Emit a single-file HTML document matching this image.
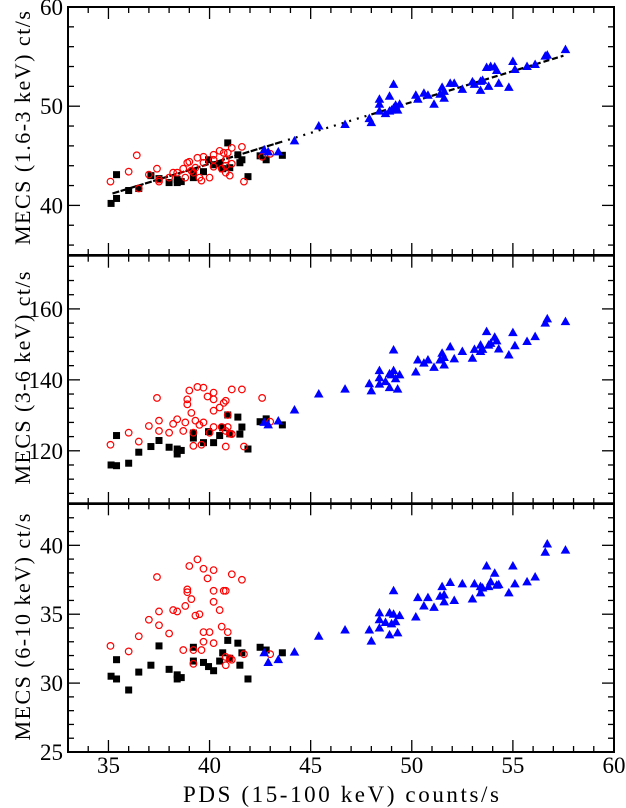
<!DOCTYPE html>
<html><head><meta charset="utf-8"><style>
html,body{margin:0;padding:0;background:#fff;}
svg{display:block;font-family:"Liberation Serif",serif;}
</style></head>
<body>
<svg id="chart" width="626" height="808" viewBox="0 0 626 808" xmlns="http://www.w3.org/2000/svg"></svg>
<script>
// ---- data (x in PDS counts/s) ----
const xTicks = [35, 40, 45, 50, 55, 60];
const p1Ticks = [40, 50, 60];
const p2Ticks = [120, 140, 160];
const p3Ticks = [25, 30, 35, 40];

const blackX = [35.13,35.4,35.4,36.0,36.5,37.1,37.5,38.0,38.4,38.4,38.6,39.2,39.2,39.7,39.95,40.2,40.5,40.65,40.9,41.0,41.4,41.5,41.6,41.9,42.5,42.8,43.6];
const blackP1 = [40.2,40.7,43.1,41.5,41.7,43.0,42.7,42.3,42.6,42.3,42.4,42.8,43.4,43.4,44.6,44.1,44.2,43.7,46.3,43.8,45.1,44.3,44.6,42.9,45.0,44.6,45.05];
const blackP2 = [116.0,115.8,124.3,116.5,119.6,121.2,122.9,121.0,120.5,119.1,120.1,123.6,125.0,122.3,125.4,122.3,124.3,126.5,130.1,124.8,129.5,124.7,126.7,120.5,128.2,129.0,127.3];
const blackP3 = [30.5,30.3,31.7,29.5,30.8,31.3,32.7,31.0,30.6,30.3,30.4,31.6,32.6,31.5,31.2,30.9,31.6,32.2,33.1,31.8,32.9,31.3,32.2,30.3,32.6,32.4,32.2];

const redX1 = [35.1,36.0,36.4,36.5,37.0,37.4,37.5,37.5,38.0,38.2,38.4,38.7,38.8,38.9,39.0,39.1,39.2,39.3,39.4,39.5,39.6,39.7,39.7,40.0,40.2,40.2,40.2,40.5,40.6,40.7,40.8,40.8,40.8,40.9,41.0,41.1,41.1,41.6,41.7,42.6,43.0];
const redP1 = [42.4,43.4,45.05,41.7,43.1,43.7,42.6,42.4,42.8,43.3,43.3,43.7,42.8,44.3,44.4,43.5,43.3,43.8,44.8,42.8,42.5,44.9,44.3,42.8,45.1,44.6,43.9,45.5,43.7,45.3,44.6,44.0,43.3,45.3,43.0,45.8,44.2,45.9,42.4,44.9,45.2];
const redX2 = [35.1,36.0,36.5,37.0,37.4,37.5,37.5,38.0,38.2,38.4,38.7,38.8,38.9,38.9,39.0,39.1,39.2,39.2,39.3,39.4,39.5,39.6,39.7,39.7,39.9,40.0,40.2,40.2,40.2,40.2,40.5,40.6,40.7,40.8,40.8,40.8,40.9,40.9,41.0,41.1,41.1,41.6,41.7,42.6,43.0];
const redP2 = [121.7,125.1,122.6,127.0,134.9,128.5,125.6,125.1,127.6,128.9,125.6,128.0,134.5,133.1,137.0,130.7,125.1,121.4,128.5,138.0,127.3,121.7,137.8,128.0,135.3,125.1,131.3,136.4,134.5,126.7,132.2,126.7,133.5,134.1,125.6,121.2,126.7,130.1,124.8,137.3,124.7,137.3,121.2,134.9,128.2];
const redX3 = [35.1,36.0,36.5,37.0,37.4,37.5,37.5,38.0,38.2,38.4,38.7,38.8,38.9,38.9,39.0,39.1,39.2,39.2,39.3,39.4,39.5,39.6,39.7,39.7,39.7,39.9,40.0,40.2,40.2,40.2,40.2,40.5,40.6,40.7,40.8,40.8,40.8,40.9,41.0,41.1,41.1,41.6,41.7,43.0];
const redP3 = [32.7,32.3,33.4,34.6,37.7,35.2,34.2,33.6,35.3,35.2,32.4,35.6,36.8,36.6,38.5,36.1,32.4,31.4,34.9,38.98,35.0,32.4,38.3,33.7,33.0,37.6,33.7,35.9,38.2,36.7,32.9,35.3,34.1,36.7,36.7,31.9,31.3,33.7,31.8,37.9,31.7,37.5,32.1,32.1];

const blueX = [42.7,42.9,43.4,44.2,45.4,46.7,47.9,48.0,48.4,48.4,48.4,48.7,48.9,48.9,49.1,49.1,49.0,49.2,49.3,49.4,50.2,50.3,50.6,50.8,51.1,51.4,51.5,51.6,51.6,51.9,52.1,52.5,53.0,53.1,53.4,53.4,53.5,53.7,53.8,53.9,54.1,54.2,54.3,54.8,55.0,55.1,55.7,56.1,56.6,56.7,57.6];
const blueP1 = [45.6,45.4,45.4,46.5,48.0,48.15,48.75,48.35,50.7,50.2,49.5,49.25,49.5,51.0,52.2,49.8,49.6,50.1,49.6,50.2,51.1,50.7,51.3,51.1,50.2,51.2,51.9,50.8,51.5,52.3,52.3,51.7,52.45,52.2,51.6,52.5,52.6,53.9,52.0,54.0,53.95,53.6,52.3,51.9,54.5,53.7,54.0,54.2,55.05,55.15,55.7];
const blueP2 = [128.0,127.3,128.4,131.5,136.0,137.4,138.9,136.9,142.6,140.6,138.8,139.5,137.8,141.7,148.4,142.6,141.4,140.3,137.4,141.4,142.2,145.6,144.7,145.6,143.5,145.6,147.5,146.3,144.2,149.3,145.9,148.0,146.1,148.6,148.0,149.8,148.6,153.6,149.8,150.3,152.0,151.0,148.7,147.0,153.3,149.6,150.8,152.2,156.0,157.2,156.4];
const blueP3 = [32.2,31.5,31.7,32.25,33.4,33.85,33.85,33.05,35.1,34.6,34.0,34.4,33.5,35.1,36.7,35.0,34.3,34.45,33.65,34.9,34.8,36.2,35.6,36.2,35.5,36.3,37.0,36.4,35.9,37.3,36.0,37.2,36.1,37.2,36.55,37.0,36.9,38.5,37.0,37.35,37.97,37.1,37.15,36.55,38.5,37.2,37.35,37.7,39.5,40.1,39.65];

const fitX = [35.2, 43.5, 48.0, 57.5];
const fitSlope = 0.623, fitAt = 41.2; // value at x=35.2

// ---- layout ----
const L = 68, R = 614, X0 = 33, X1 = 60;
const sx = v => L + (v - X0) * (R - L) / (X1 - X0);
const panels = [
  {top:7, bot:255, y0:35, y1:60, minor:2, major:10, ticks:p1Ticks, title:"MECS (1.6-3 keV) ct/s", tlen:234, tc:128, name:"panel-1-6-3kev",
   series:[[blackX,blackP1],[redX1,redP1],[blueX,blueP1]]},
  {top:255.7, bot:504, y0:105, y1:175, minor:4, major:20, ticks:p2Ticks, title:"MECS (3-6 keV) ct/s", tlen:213, tc:378, name:"panel-3-6kev",
   series:[[blackX,blackP2],[redX2,redP2],[blueX,blueP2]]},
  {top:503.3, bot:752, y0:25, y1:43.05, minor:1, major:5, ticks:p3Ticks, title:"MECS (6-10 keV) ct/s", tlen:227, tc:627, name:"panel-6-10kev",
   series:[[blackX,blackP3],[redX3,redP3],[blueX,blueP3]]}
];
const NS = "http://www.w3.org/2000/svg";
const svg = document.getElementById('chart');
function mk(tag, attrs, parent){
  const e = document.createElementNS(NS, tag);
  for (const k in attrs) e.setAttribute(k, attrs[k]);
  (parent||svg).appendChild(e); return e;
}
panels.forEach((p, pi) => {
  const g = mk('g', {});
  
  
  const sy = v => p.bot - (v - p.y0) * (p.bot - p.top) / (p.y1 - p.y0);
  for (let v = 34; v <= 60; v++) {
    const major = v % 5 === 0, len = major ? 12 : 6, x = sx(v);
    mk('line', {x1:x, x2:x, y1:p.bot, y2:p.bot-len, stroke:'#000','stroke-width':1.3}, g);
    mk('line', {x1:x, x2:x, y1:p.top, y2:p.top+len, stroke:'#000','stroke-width':1.3}, g);
  }
  for (let v = Math.ceil(p.y0/p.minor)*p.minor; v <= p.y1 + 1e-6; v += p.minor) {
    const major = Math.abs(v % p.major) < 1e-6;
    const len = major ? 12 : 6, y = sy(v);
    mk('line', {x1:L, x2:L+len, y1:y, y2:y, stroke:'#000','stroke-width':1.3}, g);
    mk('line', {x1:R, x2:R-len, y1:y, y2:y, stroke:'#000','stroke-width':1.3}, g);
  }
  p.ticks.forEach(v => {
    const t = mk('text', {x:L-5, y:sy(v)+8, 'text-anchor':'end','font-size':23}, g);
    t.textContent = v;
    
    
  });
  const tt = mk('text', {x:0, y:0, transform:`translate(30,${p.tc}) rotate(-90)`, 'text-anchor':'middle','font-size':22, textLength:p.tlen, lengthAdjust:'spacing'}, g);
  tt.textContent = p.title;
  
  
  if (pi === 0) {
    const f = x => fitAt + fitSlope * (x - 35.2);
    const dashes = ['7,1.5', '2,6', '6,3'];
    for (let i = 0; i < 3; i++) {
      const ln = mk('line', {x1:sx(fitX[i]), y1:sy(f(fitX[i])), x2:sx(fitX[i+1]), y2:sy(f(fitX[i+1])), stroke:'#000','stroke-width':2.2,'stroke-dasharray':dashes[i]}, g);
      
      
    }
  }
  const [bx, by] = p.series[0];
  bx.forEach((x, i) => {
    const r = mk('rect', {x:sx(x)-3.5, y:sy(by[i])-3.5, width:7, height:7, fill:'#000'}, g);
    
    
  });
  const [rx, ry] = p.series[1];
  rx.forEach((x, i) => {
    const c = mk('circle', {cx:sx(x), cy:sy(ry[i]), r:3.3, fill:'none', stroke:'#f00','stroke-width':1.2}, g);
    
    
  });
  const [ux, uy] = p.series[2];
  ux.forEach((x, i) => {
    const cx = sx(x), cyy = sy(uy[i]);
    const t = mk('polygon', {points:`${cx-4.8},${cyy+3.5} ${cx+4.8},${cyy+3.5} ${cx},${cyy-5}`, fill:'#00f'}, g);
    
    
  });
  const fr = mk('rect', {x:L, y:p.top, width:R-L, height:p.bot-p.top, fill:'none', stroke:'#000','stroke-width':2}, g);
  
  
});
xTicks.forEach(v => {
  const t = mk('text', {x:sx(v), y:773, 'text-anchor':'middle','font-size':23});
  t.textContent = v;
  
  
});
const xt = mk('text', {x:341, y:802, 'text-anchor':'middle','font-size':23,'xml:space':'preserve', textLength:316, lengthAdjust:'spacing'});
xt.textContent = 'PDS (15-100 keV)  counts/s';


</script>
</body></html>
